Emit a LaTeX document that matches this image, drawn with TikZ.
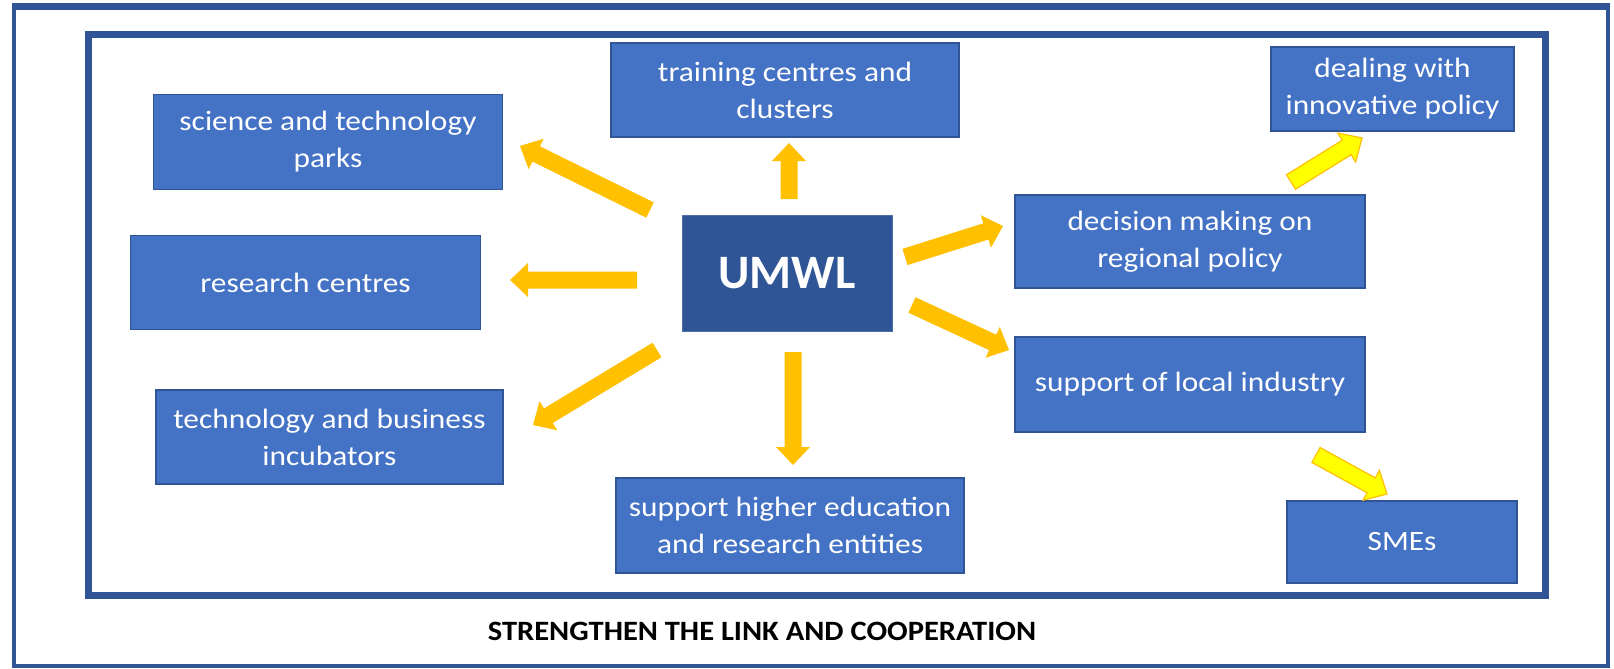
\documentclass[tikz,border=0pt]{standalone}
\usepackage{fontspec}
\setmainfont{Carlito}
\newfontfamily\boxfont[FakeStretch=1.12]{Carlito}
\newfontfamily\titlefont[FakeStretch=1.09]{Carlito}
\usetikzlibrary{calc}
\definecolor{boxblue}{HTML}{4472C4}
\definecolor{darkblue}{HTML}{2F5597}
\definecolor{gold}{HTML}{FFC000}
\definecolor{brightyellow}{HTML}{FFFF00}
\newcommand\blockarrow[3]{%
  \coordinate (hb) at ($(#3)!18pt!(#2)$);
  \filldraw[#1] ($(#2)!8.5pt!90:(#3)$) -- ($(hb)!8.5pt!-90:(#2)$) -- ($(hb)!17pt!-90:(#2)$) -- (#3) -- ($(hb)!17pt!90:(#2)$) -- ($(hb)!8.5pt!90:(#2)$) -- ($(#2)!8.5pt!-90:(#3)$) -- cycle;
}
\tikzset{
  box/.style={draw=darkblue, line width=1.5pt, fill=boxblue, text=white,
    font=\boxfont\fontsize{28}{37}\selectfont, align=center, inner sep=0pt},
  goldarrow/.style={fill=gold, draw=none},
  yelarrow/.style={fill=brightyellow, draw=gold, line width=1.2pt, line join=miter},
  frame/.style={draw=darkblue}
}
\begin{document}
\begin{tikzpicture}[x=1pt,y=-1pt]
\useasboundingbox (0,0) rectangle (1614,669);
\fill[white] (0,0) rectangle (1614,669);
% frames
\draw[frame, line width=4pt] (14,8) rectangle (1608,666);
\draw[frame, line width=7pt] (12,6.5) -- (1610,6.5);
\draw[frame, line width=7pt] (88,35) rectangle (1545,595);
% boxes
\node[box, minimum width=349pt, minimum height=95pt] (sci) at (328,142) {science and technology\\parks};
\node[box, minimum width=348pt, minimum height=94pt] (train) at (785,90) {training centres and\\clusters};
\node[box, minimum width=243pt, minimum height=84pt] (deal) at (1392.5,89) {dealing with\\innovative policy};
\node[box, minimum width=350pt, minimum height=94pt] (res) at (305.5,282.5) {research centres};
\node[draw=darkblue!85!white, line width=1pt, fill=darkblue, text=white, inner sep=0pt,
  font=\bfseries\fontsize{48}{56}\selectfont, minimum width=210pt, minimum height=116pt] (umwl) at (787,273) {UMWL};
\node[box, minimum width=350pt, minimum height=93pt] (dec) at (1190,241.5) {decision making on\\regional policy};
\node[box, minimum width=350pt, minimum height=95pt] (sup) at (1190,384.5) {support of local industry};
\node[box, minimum width=230pt, minimum height=82pt] (sme) at (1402,542) {SMEs};
\node[box, minimum width=347pt, minimum height=94pt] (inc) at (329.5,437) {technology and business\\incubators};
\node[box, minimum width=348pt, minimum height=95pt] (high) at (790,525.5) {support higher education\\and research entities};
% arrow end points
\coordinate (a1s) at (650,210); \coordinate (a1e) at (520,146);
\coordinate (a2s) at (789,199); \coordinate (a2e) at (789,143);
\coordinate (a3s) at (637,280); \coordinate (a3e) at (510,280);
\coordinate (a4s) at (905,257); \coordinate (a4e) at (1003,226);
\coordinate (a5s) at (912,305); \coordinate (a5e) at (1009,350);
\coordinate (a6s) at (657,350); \coordinate (a6e) at (533,425);
\coordinate (a7s) at (793,352); \coordinate (a7e) at (793,465);
\coordinate (a8s) at (1291,182); \coordinate (a8e) at (1362,138);
\coordinate (a9s) at (1316,455); \coordinate (a9e) at (1387,494);
\blockarrow{goldarrow}{a1s}{a1e}
\blockarrow{goldarrow}{a2s}{a2e}
\blockarrow{goldarrow}{a3s}{a3e}
\blockarrow{goldarrow}{a4s}{a4e}
\blockarrow{goldarrow}{a5s}{a5e}
\blockarrow{goldarrow}{a6s}{a6e}
\blockarrow{goldarrow}{a7s}{a7e}
\blockarrow{yelarrow}{a8s}{a8e}
\blockarrow{yelarrow}{a9s}{a9e}
% title
\node[font=\titlefont\bfseries\fontsize{28}{34}\selectfont, anchor=base, inner sep=0pt] (title) at (762,640) {STRENGTHEN THE LINK AND COOPERATION};
\end{tikzpicture}
\end{document}
